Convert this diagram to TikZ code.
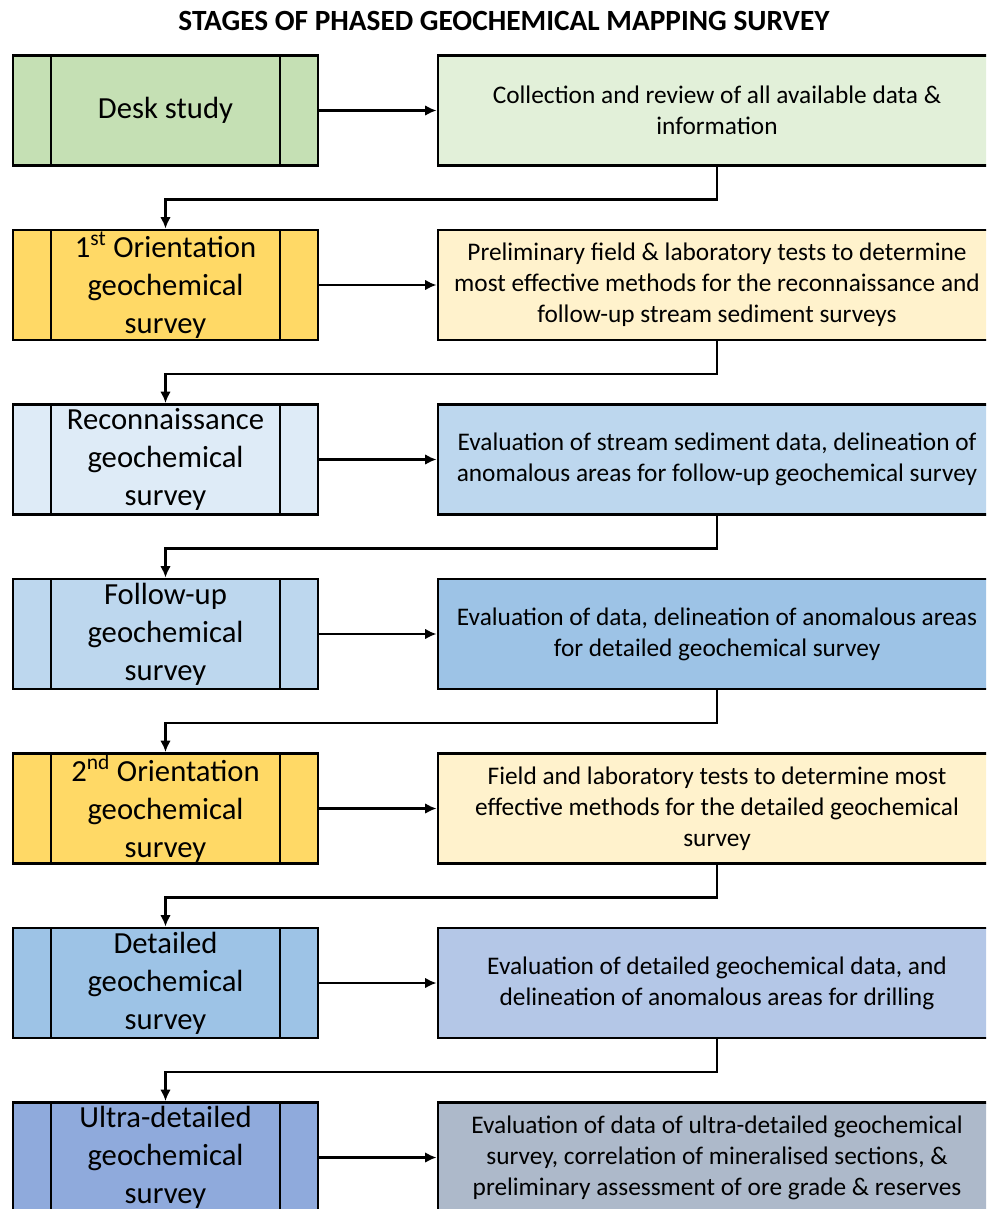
\documentclass[tikz,border=0pt]{standalone}
\usepackage{fontspec}
\setmainfont{Carlito}
\usetikzlibrary{arrows.meta,positioning,calc}
\definecolor{deskleft}{HTML}{C5E0B4}
\definecolor{deskright}{HTML}{E2F0D9}
\definecolor{orileft}{HTML}{FFD966}
\definecolor{oriright}{HTML}{FFF2CC}
\definecolor{reconleft}{HTML}{DEEBF7}
\definecolor{reconright}{HTML}{BDD7EE}
\definecolor{followleft}{HTML}{BDD7EE}
\definecolor{followright}{HTML}{9DC3E6}
\definecolor{detleft}{HTML}{9DC3E6}
\definecolor{detright}{HTML}{B4C7E7}
\definecolor{ultraleft}{HTML}{8FAADC}
\definecolor{ultraright}{HTML}{ADB9CA}
\tikzset{
  >={Latex[length=3mm,width=2.8mm]},
  stage/.style={draw=black,fill=#1,line width=2.2pt,inner sep=0pt,
    minimum width=228.75pt,minimum height=82.5pt,align=center,
    font=\fontsize{23}{28.5}\selectfont,
    path picture={
      \draw[line width=2pt] ([xshift=28.5pt]path picture bounding box.north west) -- ([xshift=28.5pt]path picture bounding box.south west);
      \draw[line width=2pt] ([xshift=-28.5pt]path picture bounding box.north east) -- ([xshift=-28.5pt]path picture bounding box.south east);
    }},
  stage/.default=deskleft,
  task/.style={draw=black,fill=#1,line width=2.2pt,inner sep=0pt,
    minimum width=418.5pt,minimum height=82.5pt,align=center,
    font=\fontsize{19}{23.25}\selectfont},
  task/.default=deskright,
  link/.style={->,line width=2pt},
}
\begin{document}
\begin{tikzpicture}[x=0.75pt,y=-0.75pt]
  \clip (0,0) rectangle (986,1209);
  \fill[white] (0,0) rectangle (986,1209);
  \node[font=\fontsize{22}{26}\selectfont\bfseries] (title) at (504,21) {STAGES OF PHASED GEOCHEMICAL MAPPING SURVEY};
  % stages on the left
  \node[stage=deskleft] (desk) at (165.5,110.5) {Desk study};
  \node[stage=orileft] (ori1) at (165.5,285) {1\textsuperscript{st} Orientation\\geochemical\\survey};
  \node[stage=reconleft] (recon) at (165.5,459.5) {Reconnaissance\\geochemical\\survey};
  \node[stage=followleft] (follow) at (165.5,634) {Follow-up\\geochemical\\survey};
  \node[stage=orileft] (ori2) at (165.5,808.5) {2\textsuperscript{nd} Orientation\\geochemical\\survey};
  \node[stage=detleft] (det) at (165.5,983) {Detailed\\geochemical\\survey};
  \node[stage=ultraleft] (ultra) at (165.5,1157.5) {Ultra-detailed\\geochemical\\survey};
  % outcomes on the right
  \node[task=deskright] (deskout) at (717,110.5) {Collection and review of all available data \&\\information};
  \node[task=oriright] (ori1out) at (717,285) {Preliminary field \& laboratory tests to determine\\most effective methods for the reconnaissance and\\follow-up stream sediment surveys};
  \node[task=reconright] (reconout) at (717,459.5) {Evaluation of stream sediment data, delineation of\\anomalous areas for follow-up geochemical survey};
  \node[task=followright] (followout) at (717,634) {Evaluation of data, delineation of anomalous areas\\for detailed geochemical survey};
  \node[task=oriright] (ori2out) at (717,808.5) {Field and laboratory tests to determine most\\effective methods for the detailed geochemical\\survey};
  \node[task=detright] (detout) at (717,983) {Evaluation of detailed geochemical data, and\\delineation of anomalous areas for drilling};
  \node[task=ultraright] (ultraout) at (717,1157.5) {Evaluation of data of ultra-detailed geochemical\\survey, correlation of mineralised sections, \&\\preliminary assessment of ore grade \& reserves};
  % stage to outcome
  \draw[link] (desk) -- (deskout);
  \draw[link] (ori1) -- (ori1out);
  \draw[link] (recon) -- (reconout);
  \draw[link] (follow) -- (followout);
  \draw[link] (ori2) -- (ori2out);
  \draw[link] (det) -- (detout);
  \draw[link] (ultra) -- (ultraout);
  % outcome to next stage
  \draw[link] (deskout.south) -- ++(0,32.5) -| (ori1.north);
  \draw[link] (ori1out.south) -- ++(0,32.5) -| (recon.north);
  \draw[link] (reconout.south) -- ++(0,32.5) -| (follow.north);
  \draw[link] (followout.south) -- ++(0,32.5) -| (ori2.north);
  \draw[link] (ori2out.south) -- ++(0,32.5) -| (det.north);
  \draw[link] (detout.south) -- ++(0,32.5) -| (ultra.north);
\end{tikzpicture}
\end{document}
